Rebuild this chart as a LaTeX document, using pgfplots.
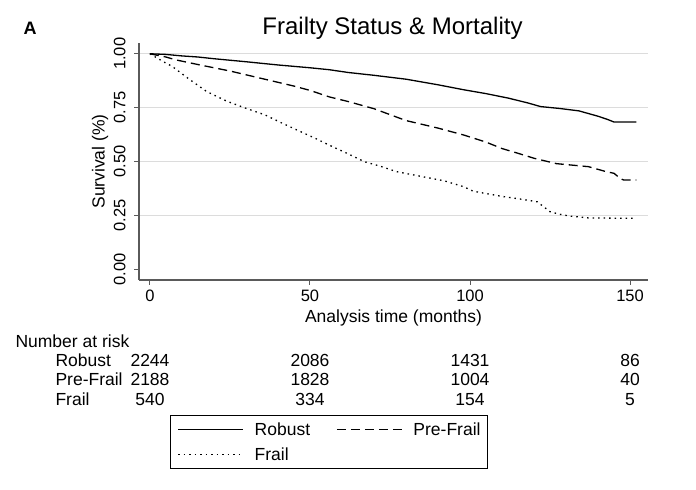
\documentclass[border=0pt]{standalone}
\usepackage{pgfplots}
\pgfplotsset{compat=1.18}
\usepackage{fontspec}
\setmainfont{Liberation Sans}

\definecolor{axisgray}{HTML}{5A5A5A}
\definecolor{gridgray}{HTML}{DCDCDC}

\newcommand{\fsz}{\fontsize{17.5bp}{20bp}\selectfont}
\newcommand{\tsz}{\fontsize{16.5bp}{19bp}\selectfont}

\begin{document}
\begin{tikzpicture}[x=1bp,y=1bp]
\path[use as bounding box] (0,0) rectangle (696,490);
\begin{axis}[
  at={(139bp,210bp)}, anchor=south west,
  scale only axis, width=509bp, height=237bp,
  xmin=-3.4, xmax=155.6, ymin=-0.05, ymax=1.05,
  axis lines*=left,
  axis line style={axisgray, line width=1.3bp},
  tick align=outside, major tick length=5bp,
  tick style={axisgray, line width=1bp},
  xtick={0,50,100,150},
  ytick={0.25,0.5,0.75,1},
  extra y ticks={0}, extra y tick style={grid=none},
  ymajorgrids, grid style={gridgray, line width=1bp},
  yticklabel={\pgfmathprintnumber[fixed,fixed zerofill,precision=2]{\tick}},
  yticklabel style={rotate=90, anchor=south, font=\tsz},
  yticklabel shift=5bp,
  xticklabel style={font=\tsz},
  xticklabel shift=1bp,
  /pgf/number format/assume math mode=true,
  xlabel={Analysis time (months)},
  xlabel style={at={(axis description cs:0.5,-0.178)}, anchor=base, font=\fsz},
  ylabel={Survival (\%)},
  ylabel style={at={(axis description cs:-0.0766,0.5)}, anchor=center, font=\fsz},
  legend columns=2,
  legend cell align=left,
  legend image code/.code={\draw[#1] (0bp,0bp) -- (65bp,0bp);},
  legend style={at={(axis description cs:0.0609,-0.5696)}, anchor=north west,
    draw=black, line width=0.8bp, inner xsep=7bp, inner ysep=6bp,
    row sep=9bp, font=\fsz,
    nodes={inner xsep=0bp, inner ysep=1bp},
    /tikz/every odd column/.append style={column sep=11bp},
    /tikz/every even column/.append style={column sep=26bp}},
  clip=false,
]
\addplot[black, line width=1.3bp] coordinates {
  (0,1) (5,0.997) (10,0.99) (15,0.985) (20,0.977) (30,0.963) (40,0.948)
  (50,0.935) (56,0.926) (62,0.913) (70,0.9) (80,0.882) (90,0.856)
  (98,0.833) (105,0.815) (112,0.794) (118,0.772) (122,0.755) (128,0.746)
  (134,0.735) (140,0.71) (143,0.695) (145,0.683) (152,0.683)
};
\addlegendentry{Robust}
\addplot[black, line width=1.3bp, dash pattern=on 9bp off 5bp] coordinates {
  (0,1) (5,0.985) (8,0.972) (15,0.95) (25,0.92) (35,0.885) (45,0.85)
  (50,0.83) (56,0.80) (62,0.778) (70,0.745) (80,0.69) (90,0.655)
  (98,0.623) (105,0.59) (110,0.56) (115,0.538) (120,0.515) (127,0.49)
  (132,0.483) (137,0.476) (142,0.455) (145,0.445) (147,0.42) (148,0.414)
  (152,0.414)
};
\addlegendentry{Pre-Frail}
\addplot[black, line width=1.3bp, dash pattern=on 1.5bp off 4bp] coordinates {
  (0,1) (4,0.965) (7,0.941) (12,0.885) (17.7,0.825) (24,0.78) (30,0.747)
  (36,0.716) (41,0.68) (47,0.639) (52,0.605) (57,0.569) (62,0.535)
  (67,0.499) (72,0.478) (77,0.453) (85,0.43) (92,0.41) (98,0.383)
  (101,0.362) (110,0.338) (116,0.325) (121,0.313) (123,0.29) (125,0.267)
  (128,0.255) (131,0.247) (137,0.238) (152,0.236)
};
\addlegendentry{Frail}
\end{axis}

% title and panel letter
\node[anchor=base, font=\fontsize{24bp}{28bp}\selectfont] at (392.5,455) {Frailty Status \& Mortality};
\node[anchor=base west, font=\fontsize{18bp}{21bp}\selectfont\bfseries] at (20,455) {A};

% number at risk table
\node[anchor=base west, font=\fsz] at (12,142) {Number at risk};
\node[anchor=base west, font=\fsz] at (52,123) {Robust};
\node[anchor=base west, font=\fsz] at (52,104) {Pre-Frail};
\node[anchor=base west, font=\fsz] at (52,84) {Frail};
\foreach \x/\a/\b/\c in {150/2244/2188/540, 310/2086/1828/334, 470/1431/1004/154, 630/86/40/5} {
  \node[anchor=base, font=\fsz] at (\x,123) {\a};
  \node[anchor=base, font=\fsz] at (\x,104) {\b};
  \node[anchor=base, font=\fsz] at (\x,84) {\c};
}
\end{tikzpicture}
\end{document}
